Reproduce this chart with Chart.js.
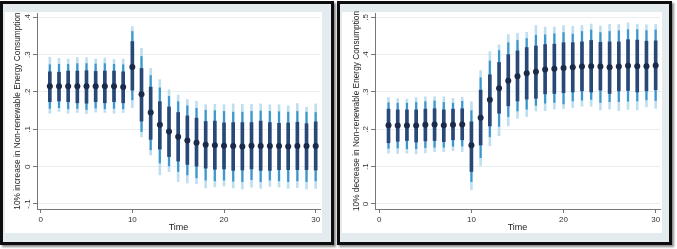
<!DOCTYPE html>
<html>
<head>
<meta charset="utf-8">
<script src="https://cdn.jsdelivr.net/npm/chart.js@4.4.1/dist/chart.umd.min.js"></script>
<style>
body { margin: 0; background: #fff; width: 677px; height: 249px; overflow: hidden; position: relative; }
.frame { position: absolute; top: 1px; height: 238px; border: 3px solid #0d0d0d; background: #e4ebee; box-shadow: 2px 2px 2px #8c8c8c; }
.inner { position: absolute; top: 8px; height: 221px; left: 2px; background: #fff; }
canvas { position: absolute; top: 0; }
</style>
</head>
<body>
<div class="frame" style="left:0px;width:328px"><div class="inner" style="width:317px"></div></div>
<div class="frame" style="left:337px;width:329px"><div class="inner" style="width:320px"></div></div>
<canvas id="left" width="337" height="249" style="left:0px"></canvas>
<canvas id="right" width="340" height="249" style="left:337px"></canvas>
<script>
const time = [1,2,3,4,5,6,7,8,9,10,11,12,13,14,15,16,17,18,19,20,21,22,23,24,25,26,27,28,29,30];

// left panel: 10% increase
const estL    = [0.215,0.215,0.215,0.215,0.215,0.215,0.215,0.215,0.213,0.267,0.194,0.145,0.112,0.094,0.080,0.070,0.064,0.059,0.057,0.056,0.055,0.054,0.056,0.055,0.055,0.055,0.054,0.055,0.055,0.055];
const darkHiL = [0.254,0.253,0.256,0.256,0.257,0.255,0.256,0.256,0.254,0.335,0.263,0.213,0.174,0.160,0.145,0.136,0.130,0.121,0.122,0.117,0.118,0.118,0.118,0.122,0.118,0.116,0.117,0.119,0.115,0.120];
const darkLoL = [0.174,0.176,0.174,0.171,0.170,0.174,0.171,0.174,0.171,0.205,0.122,0.073,0.047,0.027,0.015,0.006,0.000,-0.004,-0.007,-0.006,-0.010,-0.009,-0.006,-0.010,-0.010,-0.008,-0.008,-0.008,-0.008,-0.009];
const midHiL  = [0.273,0.274,0.274,0.276,0.276,0.275,0.276,0.274,0.273,0.362,0.295,0.244,0.211,0.188,0.174,0.163,0.156,0.151,0.150,0.148,0.146,0.146,0.148,0.149,0.148,0.147,0.146,0.148,0.146,0.145];
const midLoL  = [0.156,0.158,0.155,0.156,0.153,0.157,0.155,0.156,0.155,0.179,0.094,0.045,0.010,0.002,-0.013,-0.022,-0.030,-0.036,-0.038,-0.036,-0.039,-0.040,-0.035,-0.040,-0.036,-0.038,-0.040,-0.038,-0.040,-0.038];
const paleHiL = [0.293,0.290,0.288,0.292,0.292,0.288,0.291,0.287,0.288,0.375,0.317,0.263,0.233,0.206,0.192,0.180,0.175,0.166,0.167,0.166,0.168,0.167,0.167,0.168,0.166,0.166,0.163,0.169,0.159,0.168];
const paleLoL = [0.143,0.148,0.143,0.145,0.142,0.146,0.145,0.143,0.145,0.158,0.080,0.031,-0.022,-0.013,-0.040,-0.044,-0.046,-0.057,-0.054,-0.052,-0.057,-0.060,-0.055,-0.058,-0.053,-0.055,-0.058,-0.056,-0.060,-0.058];

// right panel: 10% decrease
const estR    = [0.211,0.210,0.210,0.210,0.212,0.213,0.211,0.212,0.213,0.157,0.231,0.279,0.310,0.330,0.342,0.350,0.354,0.360,0.362,0.364,0.366,0.368,0.369,0.368,0.366,0.368,0.370,0.369,0.369,0.371];
const darkHiR = [0.254,0.252,0.252,0.252,0.254,0.255,0.252,0.254,0.255,0.220,0.305,0.346,0.379,0.400,0.410,0.419,0.423,0.427,0.428,0.432,0.432,0.434,0.438,0.433,0.434,0.434,0.440,0.439,0.436,0.437];
const darkLoR = [0.164,0.168,0.170,0.166,0.169,0.170,0.167,0.172,0.172,0.087,0.158,0.209,0.243,0.263,0.276,0.281,0.283,0.295,0.296,0.298,0.300,0.303,0.300,0.305,0.296,0.303,0.304,0.300,0.303,0.306];
const midHiR  = [0.271,0.270,0.270,0.272,0.274,0.276,0.272,0.270,0.275,0.250,0.338,0.383,0.411,0.432,0.438,0.443,0.452,0.453,0.456,0.459,0.455,0.462,0.466,0.459,0.462,0.464,0.467,0.467,0.464,0.466];
const midLoR  = [0.149,0.150,0.148,0.148,0.151,0.152,0.152,0.155,0.155,0.060,0.124,0.180,0.208,0.234,0.249,0.254,0.264,0.270,0.272,0.268,0.276,0.278,0.280,0.272,0.274,0.274,0.275,0.276,0.279,0.277];
const paleHiR = [0.285,0.282,0.281,0.285,0.287,0.287,0.287,0.283,0.286,0.274,0.357,0.408,0.426,0.454,0.457,0.460,0.478,0.474,0.474,0.478,0.476,0.478,0.482,0.477,0.481,0.481,0.485,0.482,0.480,0.481];
const paleLoR = [0.136,0.135,0.136,0.134,0.137,0.140,0.140,0.143,0.140,0.038,0.103,0.156,0.183,0.209,0.229,0.234,0.249,0.250,0.254,0.255,0.258,0.262,0.262,0.252,0.254,0.250,0.253,0.252,0.260,0.256];

const FONT = '"Liberation Sans", Arial, sans-serif';

// stata style labels: .4, .3, 0, -.1
function fmt(v) {
    const r = Math.round(v * 10) / 10;
    return r === 0 ? '0' : String(r).replace('0.', '.');
}

// y tick labels are vertical in the original
const rotatedTicks = {
    id: 'rotatedTicks',
    afterDraw(chart) {
        const s = chart.scales.y, ctx = chart.ctx;
        ctx.save();
        ctx.fillStyle = '#333';
        ctx.font = '8px ' + FONT;
        ctx.textAlign = 'center';
        ctx.textBaseline = 'middle';
        s.ticks.forEach(t => {
            ctx.save();
            ctx.translate(s.right - 9, s.getPixelForValue(t.value));
            ctx.rotate(-Math.PI / 2);
            ctx.fillText(fmt(t.value), 0, 0);
            ctx.restore();
        });
        ctx.restore();
    }
};

function makePanel(id, est, dLo, dHi, mLo, mHi, pLo, pHi, yMin, yMax, xMin, yTitle, yWidth, titlePad) {
    const band = (lo, hi) => time.map((t, i) => ({x: t, y: [lo[i], hi[i]]}));
    return new Chart(document.getElementById(id), {
        type: 'bar',
        data: {
            datasets: [
                {type: 'scatter', data: time.map((t, i) => ({x: t, y: est[i]})), pointRadius: 3, backgroundColor: '#1b2a48', borderWidth: 0, order: 0},
                {data: band(dLo, dHi), backgroundColor: '#284878', barThickness: 3, grouped: false, order: 1},
                {data: band(mLo, mHi), backgroundColor: '#3b97cd', barThickness: 1.5, grouped: false, order: 2},
                {data: band(pLo, pHi), backgroundColor: '#bfdff0', barThickness: 2, grouped: false, order: 3}
            ]
        },
        options: {
            responsive: false,
            animation: false,
            events: [],
            layout: {padding: {top: 13, right: 17, bottom: 0, left: 0}},
            plugins: {legend: {display: false}, tooltip: {enabled: false}},
            scales: {
                x: {
                    type: 'linear', min: xMin, max: 30.47, offset: false,
                    grid: {drawOnChartArea: false, tickLength: 4, tickColor: '#777', offset: false},
                    border: {color: '#777'},
                    ticks: {stepSize: 10, includeBounds: false, padding: 2, color: '#333', font: {family: FONT, size: 8}},
                    title: {display: true, text: 'Time', color: '#222', font: {family: FONT, size: 9}, padding: {top: 0, bottom: 16}},
                    afterFit(s) { s.height = 40; }
                },
                y: {
                    min: yMin, max: yMax,
                    grid: {color: '#e9eef1', tickLength: 4, tickColor: '#777'},
                    border: {color: '#777'},
                    ticks: {stepSize: 0.1, includeBounds: false, color: 'rgba(0,0,0,0)', font: {family: FONT, size: 8}, callback: fmt},
                    title: {display: true, text: yTitle, color: '#222', font: {family: FONT, size: 8.3}, padding: {top: titlePad, bottom: 0}},
                    afterFit(s) { s.width = yWidth; }
                }
            }
        },
        plugins: [rotatedTicks]
    });
}

makePanel('left', estL, darkLoL, darkHiL, midLoL, midHiL, paleLoL, paleHiL,
    -0.1134, 0.4115, -0.40, '10% increase in Non-renewable Energy Consumption', 37, 13);
makePanel('right', estR, darkLoR, darkHiR, midLoR, midHiR, paleLoR, paleHiR,
    -0.0134, 0.5115, -0.467, '10% decrease in Non-renewable Energy Consumption', 38, 15);
</script>
</body>
</html>
